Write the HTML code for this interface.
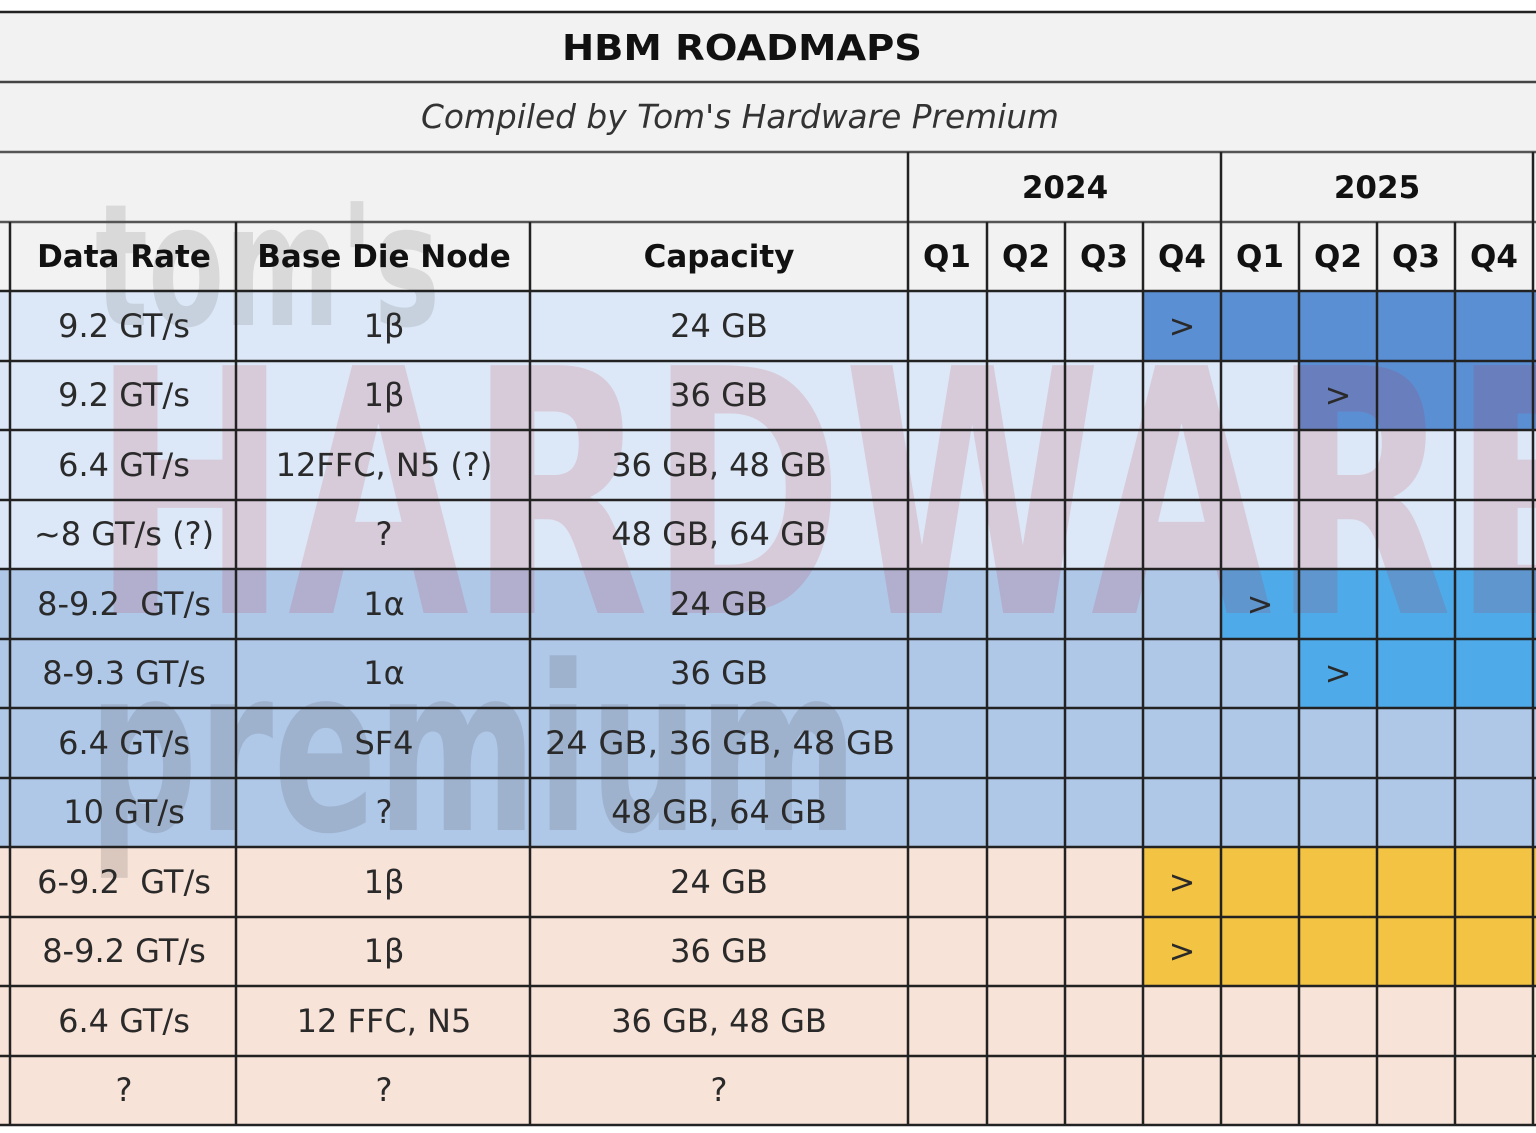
<!DOCTYPE html>
<html><head><meta charset="utf-8"><style>
html,body{margin:0;padding:0;background:#fff;}
svg{display:block;}
text{font-family:"DejaVu Sans","Liberation Sans",sans-serif;}
</style></head><body>
<svg width="1536" height="1133" viewBox="0 0 1536 1133" xmlns="http://www.w3.org/2000/svg">
<rect x="0" y="0" width="1536" height="1133" fill="#fff"/>
<rect x="0" y="12" width="1536" height="279" fill="#f2f2f2"/>
<rect x="0" y="291" width="1536" height="278" fill="#dce8f7"/>
<rect x="0" y="569" width="1536" height="278" fill="#afc8e8"/>
<rect x="0" y="847" width="1536" height="278" fill="#f8e3d8"/>
<rect x="0" y="1125" width="1536" height="8" fill="#fff"/>
<rect x="1143" y="291" width="393" height="70" fill="#5b8fd4"/>
<rect x="1299" y="361" width="237" height="69" fill="#5b8fd4"/>
<rect x="1221" y="569" width="315" height="70" fill="#4eaae8"/>
<rect x="1299" y="639" width="237" height="69" fill="#4eaae8"/>
<rect x="1143" y="847" width="393" height="139" fill="#f3c343"/>
<!-- watermark -->
<g>
<text x="95" y="325" font-size="170" font-weight="bold" fill="#777" opacity="0.2" font-family="Liberation Sans,sans-serif" textLength="345" lengthAdjust="spacingAndGlyphs">tom's</text>
<text x="92" y="613" font-size="340" font-weight="bold" fill="#c2202e" opacity="0.14" font-family="Liberation Sans,sans-serif" textLength="1520" lengthAdjust="spacingAndGlyphs">HARDWARE</text>
<text x="88" y="830" font-size="230" font-weight="bold" fill="#555" opacity="0.18" font-family="Liberation Sans,sans-serif" textLength="770" lengthAdjust="spacingAndGlyphs">premium</text>
</g>
<g stroke="#222" stroke-width="2.5">
<line x1="0" y1="12" x2="1536" y2="12"/>
<line x1="0" y1="82" x2="1536" y2="82" stroke="#444"/>
<line x1="0" y1="152" x2="1536" y2="152" stroke="#555"/>
<line x1="0" y1="222" x2="1536" y2="222" stroke="#555"/>
<line x1="0" y1="291" x2="1536" y2="291"/>
<line x1="0" y1="361" x2="1536" y2="361"/>
<line x1="0" y1="430" x2="1536" y2="430"/>
<line x1="0" y1="500" x2="1536" y2="500"/>
<line x1="0" y1="569" x2="1536" y2="569"/>
<line x1="0" y1="639" x2="1536" y2="639"/>
<line x1="0" y1="708" x2="1536" y2="708"/>
<line x1="0" y1="778" x2="1536" y2="778"/>
<line x1="0" y1="847" x2="1536" y2="847"/>
<line x1="0" y1="917" x2="1536" y2="917"/>
<line x1="0" y1="986" x2="1536" y2="986"/>
<line x1="0" y1="1056" x2="1536" y2="1056"/>
<line x1="0" y1="1125" x2="1536" y2="1125"/>
</g>
<g stroke="#222" stroke-width="2.5">
<line x1="908" y1="152" x2="908" y2="1125"/>
<line x1="1221" y1="152" x2="1221" y2="1125"/>
<line x1="1533" y1="152" x2="1533" y2="1125"/>
<line x1="10" y1="222" x2="10" y2="1125"/>
<line x1="236" y1="222" x2="236" y2="1125"/>
<line x1="530" y1="222" x2="530" y2="1125"/>
<line x1="987" y1="222" x2="987" y2="1125"/>
<line x1="1065" y1="222" x2="1065" y2="1125"/>
<line x1="1143" y1="222" x2="1143" y2="1125"/>
<line x1="1299" y1="222" x2="1299" y2="1125"/>
<line x1="1377" y1="222" x2="1377" y2="1125"/>
<line x1="1455" y1="222" x2="1455" y2="1125"/>
</g>
<g fill="#111" font-weight="bold" text-anchor="middle" font-size="31">
<text x="742" y="60" font-size="36" textLength="360" lengthAdjust="spacingAndGlyphs">HBM ROADMAPS</text>
<text x="1065" y="198">2024</text>
<text x="1377" y="198">2025</text>
<text x="124" y="267">Data Rate</text>
<text x="384" y="267">Base Die Node</text>
<text x="719" y="267">Capacity</text>
<text x="947" y="267">Q1</text>
<text x="1026" y="267">Q2</text>
<text x="1104" y="267">Q3</text>
<text x="1182" y="267">Q4</text>
<text x="1260" y="267">Q1</text>
<text x="1338" y="267">Q2</text>
<text x="1416" y="267">Q3</text>
<text x="1494" y="267">Q4</text>
</g>
<text x="740" y="128" text-anchor="middle" font-size="33" font-style="italic" fill="#333" textLength="638" lengthAdjust="spacingAndGlyphs">Compiled by Tom's Hardware Premium</text>
<g fill="#2a2a2a" text-anchor="middle" font-size="32">
<text x="124" y="337">9.2 GT/s</text><text x="384" y="337">1β</text><text x="719" y="337">24 GB</text>
<text x="124" y="406">9.2 GT/s</text><text x="384" y="406">1β</text><text x="719" y="406">36 GB</text>
<text x="124" y="476">6.4 GT/s</text><text x="384" y="476">12FFC, N5 (?)</text><text x="719" y="476">36 GB, 48 GB</text>
<text x="124" y="545">~8 GT/s (?)</text><text x="384" y="545">?</text><text x="719" y="545">48 GB, 64 GB</text>
<text x="124" y="615" xml:space="preserve">8-9.2  GT/s</text><text x="384" y="615">1α</text><text x="719" y="615">24 GB</text>
<text x="124" y="684">8-9.3 GT/s</text><text x="384" y="684">1α</text><text x="719" y="684">36 GB</text>
<text x="124" y="754">6.4 GT/s</text><text x="384" y="754">SF4</text><text x="720" y="754" textLength="350" lengthAdjust="spacingAndGlyphs">24 GB, 36 GB, 48 GB</text>
<text x="124" y="823">10 GT/s</text><text x="384" y="823">?</text><text x="719" y="823">48 GB, 64 GB</text>
<text x="124" y="893" xml:space="preserve">6-9.2  GT/s</text><text x="384" y="893">1β</text><text x="719" y="893">24 GB</text>
<text x="124" y="962">8-9.2 GT/s</text><text x="384" y="962">1β</text><text x="719" y="962">36 GB</text>
<text x="124" y="1032">6.4 GT/s</text><text x="384" y="1032">12 FFC, N5</text><text x="719" y="1032">36 GB, 48 GB</text>
<text x="124" y="1101">?</text><text x="384" y="1101">?</text><text x="719" y="1101">?</text>
<text x="1182" y="337">&gt;</text>
<text x="1338" y="406">&gt;</text>
<text x="1260" y="615">&gt;</text>
<text x="1338" y="684">&gt;</text>
<text x="1182" y="893">&gt;</text>
<text x="1182" y="962">&gt;</text>
</g>
</svg>
</body></html>
